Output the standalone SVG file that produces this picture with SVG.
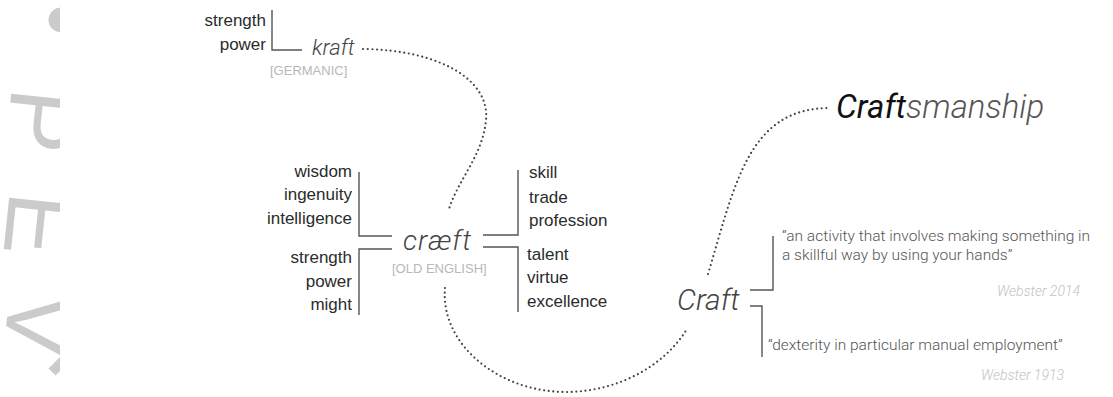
<svg xmlns="http://www.w3.org/2000/svg" width="1113" height="397" viewBox="0 0 1113 397">
  <defs>
    <style>
      .word{font-family:"Liberation Sans",Arial,sans-serif;font-size:17px;fill:#2b2b2b}
      .r{text-anchor:end}
      .term{font-family:Roboto,"Liberation Sans",sans-serif;font-weight:300;font-style:italic;fill:#444}
      .tag{font-family:"Liberation Sans",Arial,sans-serif;font-size:13px;fill:#b8b8b8}
      .quote{font-family:Roboto,"Liberation Sans",sans-serif;font-weight:300;font-size:15.5px;fill:#555}
      .src{font-family:Roboto,"Liberation Sans",sans-serif;font-weight:300;font-style:italic;font-size:14px;fill:#c2c2c2;text-anchor:end}
      .br{fill:none;stroke:#555;stroke-width:1.4}
      .dots{fill:none;stroke:#444;stroke-width:2.2;stroke-linecap:round;stroke-dasharray:0 4.6}
      .wm{font-family:"Liberation Sans",Arial,sans-serif;font-size:95px;fill:#cbcbcb}
    </style>
    <clipPath id="edge"><rect x="0" y="0" width="60" height="397"/></clipPath>
  </defs>
  <rect width="1113" height="397" fill="#fff"/>

  <!-- faint watermark letters along the left edge -->
  <g id="watermark" clip-path="url(#edge)">
    <circle cx="61" cy="20" r="12.5" fill="#cbcbcb"/>
    <text class="wm" transform="translate(12,86) rotate(96)">P</text>
    <text class="wm" transform="translate(10,190) rotate(96)">E</text>
    <text class="wm" transform="translate(10,290) rotate(96)">V</text>
    <rect x="0" y="-5" width="16" height="10" fill="#cbcbcb" transform="translate(52,372) rotate(-45)"/>
  </g>

  <!-- dotted lineage connectors -->
  <g id="connectors">
    <path class="dots" d="M363,49 C440,50 490,80 486,120 C483,155 458,180 449,209"/>
    <path class="dots" d="M445,288 C440,345 500,393 568,392 C620,391 665,365 687,329"/>
    <path class="dots" d="M708,274 C735,185 748,108 830,108"/>
  </g>

  <g id="kraft">
    <text class="word r" x="266" y="26">strength</text>
    <text class="word r" x="266" y="50">power</text>
    <path class="br" d="M272,10 V50 H302"/>
    <text class="term" x="312" y="55" font-size="22">kraft</text>
    <text class="tag" x="270" y="75">[GERMANIC]</text>
  </g>

  <g id="craeft">
    <text class="word r" x="352" y="177">wisdom</text>
    <text class="word r" x="352" y="200">ingenuity</text>
    <text class="word r" x="352" y="224">intelligence</text>
    <text class="word r" x="352" y="263">strength</text>
    <text class="word r" x="352" y="287">power</text>
    <text class="word r" x="352" y="310">might</text>
    <path class="br" d="M359,172 V236 H392"/>
    <path class="br" d="M392,249 H359 V315"/>
    <text class="term" x="403" y="250" font-size="28" letter-spacing="1">cræft</text>
    <text class="tag" x="392" y="273">[OLD ENGLISH]</text>
    <path class="br" d="M483,235 H518 V170"/>
    <path class="br" d="M483,247 H518 V312"/>
    <text class="word" x="529" y="178">skill</text>
    <text class="word" x="529" y="203">trade</text>
    <text class="word" x="529" y="226">profession</text>
    <text class="word" x="527" y="260">talent</text>
    <text class="word" x="527" y="283">virtue</text>
    <text class="word" x="527" y="307">excellence</text>
  </g>

  <g id="craft">
    <text class="term" x="677" y="310" font-size="30">Craft</text>
    <path class="br" d="M750,290 H773 V236"/>
    <path class="br" d="M750,306 H762 V357"/>
    <text class="quote" x="782" y="241">“an activity that involves making something in</text>
    <text class="quote" x="782" y="260">a skillful way by using your hands”</text>
    <text class="src" x="1080" y="296">Webster 2014</text>
    <text class="quote" x="768" y="350">“dexterity in particular manual employment”</text>
    <text class="src" x="1064" y="380">Webster 1913</text>
  </g>

  <g id="craftsmanship">
    <text x="836" y="118" font-family="Roboto,'Liberation Sans',sans-serif" font-style="italic" font-size="33"><tspan font-weight="400" fill="#111">Craft</tspan><tspan font-weight="300" fill="#555">smanship</tspan></text>
  </g>
</svg>
